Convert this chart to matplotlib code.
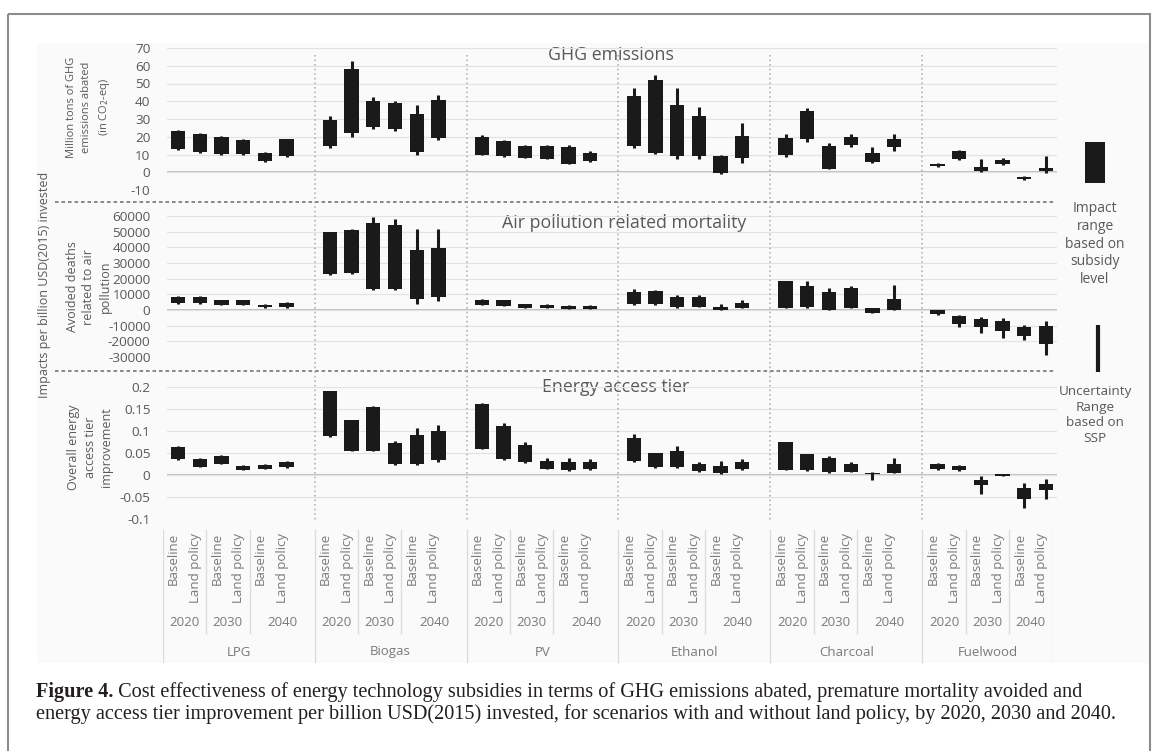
import matplotlib
matplotlib.use("Agg")
import matplotlib.pyplot as plt
from matplotlib.patches import Rectangle
import numpy as np

plt.rcParams['font.family'] = ['Open Sans', 'DejaVu Sans']
plt.rcParams['axes.unicode_minus'] = False

# ---------------- data ----------------
technologies = ["LPG", "Biogas", "PV", "Ethanol", "Charcoal", "Fuelwood"]
years = ["2020", "2030", "2040"]
scenarios = ["Baseline", "Land policy"]

# GHG emissions abated (Mt CO2-eq) : subsidy-level range (box) and SSP uncertainty (line)
ghg_box_lo = [13, 11.5, 10.5, 10.2, 6.2, 9.2,
              14.7, 22.2, 25.6, 24.1, 11.5, 19.4,
              10, 9.2, 8.3, 7.7, 4.9, 6.2,
              14.9, 11.1, 9.2, 9.2, -0.4, 8.3,
              9.6, 18.5, 1.7, 15.6, 5.8, 14.3,
              3.4, 7.3, 0.75, 4.9, -3.8, 0.75]
ghg_box_hi = [23.5, 21.8, 20, 18, 10.9, 18.5,
              29.4, 58.4, 40.3, 39.2, 32.8, 40.7,
              20, 17.5, 15, 14.7, 14.3, 11.1,
              43.1, 52, 37.9, 31.8, 9.2, 20.3,
              19.4, 34.5, 14.9, 20, 10.9, 18.5,
              4.9, 12, 3, 6.8, -2.6, 2.6]
ghg_unc_lo = [12.5, 11, 10, 9.8, 5.5, 8.7,
              13.4, 20, 24.3, 23.5, 9.6, 18,
              9.6, 8.8, 7.9, 7.3, 4.5, 5.8,
              13.4, 10.2, 7.7, 7.7, -0.8, 5.3,
              8.7, 17.1, 1.7, 14.3, 5.3, 12,
              3.2, 7, 0.2, 4, -4.1, -0.2]
ghg_unc_hi = [24, 22.3, 20.5, 18.5, 11.5, 19,
              31.8, 62.7, 42.2, 40, 37.9, 43.5,
              20.9, 18.1, 15.6, 15.2, 15.3, 11.9,
              47.6, 54.8, 47.6, 36.9, 10, 28,
              21.3, 36.3, 16.2, 21.8, 14.3, 21.3,
              5.1, 12.3, 7.7, 8.3, -2.3, 9.2]

# Avoided deaths related to air pollution
air_box_lo = [4300, 4300, 3200, 3200, 1700, 2200,
              23000, 23700, 13300, 13300, 6900, 8000,
              3200, 2600, 1500, 1500, 900, 900,
              3700, 3700, 2200, 2200, 0, 1500,
              1100, 2200, 0, 1100, -1700, 0,
              -2400, -9200, -11000, -13500, -16800, -21500]
air_box_hi = [8400, 8400, 6200, 6200, 3400, 4700,
              49500, 51000, 55300, 54200, 38500, 39600,
              6200, 6200, 3700, 3400, 2600, 2600,
              11800, 12300, 8000, 8000, 1900, 4700,
              18300, 15100, 11600, 14000, 1100, 6900,
              -200, -3900, -6000, -7100, -11000, -9900]
air_unc_lo = [4100, 4100, 3000, 3000, 1300, 1500,
              22500, 22800, 12700, 12700, 4100, 5800,
              3000, 2400, 1200, 1200, 600, 600,
              3200, 3200, 1500, 1900, -200, 1000,
              1100, 1500, 0, 1100, -1700, 0,
              -3200, -11000, -14600, -17800, -18900, -28600]
air_unc_hi = [9000, 9000, 6500, 6500, 3900, 5200,
              50000, 51800, 59100, 57800, 51400, 51400,
              6800, 6600, 4000, 3800, 3000, 3000,
              13100, 12900, 9700, 9300, 3700, 6200,
              18700, 18700, 13800, 15500, 1500, 16100,
              0, -3200, -4500, -5400, -9700, -7100]

# Overall energy access tier improvement
eat_box_lo = [0.036, 0.019, 0.025, 0.0114, 0.0144, 0.0175,
              0.089, 0.0555, 0.0555, 0.025, 0.025, 0.034,
              0.059, 0.0365, 0.029, 0.0137, 0.0114, 0.0129,
              0.0327, 0.0175, 0.019, 0.0099, 0.0038, 0.0137,
              0.0114, 0.0106, 0.0076, 0.0068, 0.0015, 0.005,
              0.0129, 0.0106, -0.0236, -0.0023, -0.0555, -0.035]
eat_box_hi = [0.063, 0.0365, 0.043, 0.0205, 0.0236, 0.030,
              0.19, 0.124, 0.1536, 0.072, 0.091, 0.100,
              0.161, 0.112, 0.068, 0.0327, 0.0297, 0.0297,
              0.0837, 0.049, 0.0555, 0.025, 0.0205, 0.029,
              0.0753, 0.047, 0.038, 0.026, 0.005, 0.0243,
              0.0243, 0.0205, -0.0114, 0.0015, -0.0289, -0.0198]
eat_unc_lo = [0.034, 0.018, 0.024, 0.011, 0.013, 0.016,
              0.087, 0.054, 0.054, 0.023, 0.023, 0.030,
              0.058, 0.035, 0.0266, 0.013, 0.0099, 0.0114,
              0.030, 0.016, 0.015, 0.0076, 0.0023, 0.0114,
              0.0106, 0.0099, 0.005, 0.006, -0.0114, 0.0038,
              0.0106, 0.009, -0.044, -0.003, -0.076, -0.0555]
eat_unc_hi = [0.065, 0.038, 0.045, 0.022, 0.025, 0.031,
              0.192, 0.126, 0.157, 0.0776, 0.1065, 0.114,
              0.163, 0.118, 0.075, 0.038, 0.038, 0.036,
              0.0935, 0.050, 0.066, 0.030, 0.0327, 0.0365,
              0.076, 0.048, 0.043, 0.030, 0.0068, 0.038,
              0.028, 0.023, -0.0023, 0.002, -0.019, -0.0099]

ghg_ticks = [70, 60, 50, 40, 30, 20, 10, 0, -10]
air_ticks = [60000, 50000, 40000, 30000, 20000, 10000, 0, -10000, -20000, -30000]
eat_ticks = [0.2, 0.15, 0.1, 0.05, 0, -0.05, -0.1]
eat_tick_labels = ["0.2", "0.15", "0.1", "0.05", "0", "-0.05", "-0.1"]

caption_bold = "Figure 4."
caption_line1 = (" Cost effectiveness of energy technology subsidies in terms of GHG emissions "
                 "abated, premature mortality avoided and")
caption_line2 = ("energy access tier improvement per billion USD(2015) invested, for scenarios "
                 "with and without land policy, by 2020, 2030 and 2040.")

# ---------------- layout ----------------
W, H = 1152, 751
fig = plt.figure(figsize=(W / 100, H / 100), dpi=100)

SLOT = 21.7          # px per category slot
PLOT_L = 167.15      # px, left of plot area
N_SLOTS = 41
LABEL_SHIFT = -4.4   # px, label table offset
TXT = "#595959"
BAR = "#1a1a1a"

n_tech = len(technologies)
slots = np.arange(n_tech * 7).reshape(n_tech, 7)[:, :6].ravel()   # 6 bars + gap per tech

deco = fig.add_axes([0, 0, 1, 1], zorder=0)
deco.set_xlim(0, W)
deco.set_ylim(H, 0)
deco.axis('off')

# light chart-area background and outer frame
deco.add_patch(Rectangle((37, 43), 1113, 620, facecolor="#fafafa", edgecolor="none", zorder=0))
deco.add_patch(Rectangle((8, 14), 1141.5, 760, facecolor="none", edgecolor="#8c8c8c", lw=1.5, zorder=1))


def panel(top, bottom, ylim, ticks, labels):
    ax = fig.add_axes([PLOT_L / W, 1 - bottom / H, SLOT * N_SLOTS / W, (bottom - top) / H], zorder=2)
    ax.patch.set_alpha(0)
    ax.set_xlim(-0.5, N_SLOTS - 0.5)
    ax.set_ylim(*ylim)
    ax.set_yticks(ticks)
    ax.set_yticklabels(labels)
    ax.set_xticks([])
    for s in ax.spines.values():
        s.set_visible(False)
    ax.tick_params(axis='y', length=0, pad=12, labelsize=9.7, labelcolor=TXT)
    ax.grid(axis='y', color="#e3e3e3", lw=0.9, zorder=0)
    ax.axhline(0, color="#bdbdbd", lw=1.4, zorder=1)
    return ax


ax1 = panel(48, 190, (-10, 70), ghg_ticks, [str(t) for t in ghg_ticks])
ax2 = panel(216, 357, (-30000, 60000), air_ticks, [str(t) for t in air_ticks])
ax3 = panel(387, 519, (-0.1, 0.2), eat_ticks, eat_tick_labels)

for ax, blo, bhi, ulo, uhi in [(ax1, ghg_box_lo, ghg_box_hi, ghg_unc_lo, ghg_unc_hi),
                                (ax2, air_box_lo, air_box_hi, air_unc_lo, air_unc_hi),
                                (ax3, eat_box_lo, eat_box_hi, eat_unc_lo, eat_unc_hi)]:
    blo, bhi = np.array(blo), np.array(bhi)
    ax.vlines(slots, ulo, uhi, color=BAR, lw=2.2, zorder=3)
    ax.bar(slots, bhi - blo, bottom=blo, width=0.66, color=BAR, zorder=4)

# panel titles
deco.text(611, 55, "GHG emissions", ha='center', va='center', fontsize=12.8, color=TXT)
deco.text(624, 223, "Air pollution related mortality", ha='center', va='center', fontsize=12.8, color=TXT)
deco.text(616, 387, "Energy access tier", ha='center', va='center', fontsize=12.8, color=TXT)

# y labels
deco.text(89, 107, "Million tons of GHG\nemissions abated\n(in CO$_2$-eq)", rotation=90,
          ha='center', va='center', fontsize=8, color=TXT, linespacing=1.45, multialignment='center')
deco.text(89, 287, "Avoided deaths\nrelated to air\npollution", rotation=90,
          ha='center', va='center', fontsize=9, color=TXT, linespacing=1.3, multialignment='center')
deco.text(90, 447, "Overall energy\naccess tier\nimprovement", rotation=90,
          ha='center', va='center', fontsize=9, color=TXT, linespacing=1.3, multialignment='center')
deco.text(45, 285, "Impacts per billion USD(2015) invested", rotation=90,
          ha='center', va='center', fontsize=9, color=TXT)

# horizontal dashed separators between panels
for yy in (202, 371):
    deco.plot([55, 1056], [yy, yy], color="#808080", lw=1.3, ls=(0, (2, 1.6)), zorder=3)

# label table axes (category axis)
lab = fig.add_axes([(PLOT_L + LABEL_SHIFT) / W, 1 - 665 / H, SLOT * N_SLOTS / W, 140 / H], zorder=2)
lab.set_xlim(-0.5, N_SLOTS - 0.5)
lab.set_ylim(665, 525)
lab.axis('off')
LAB = "#7a7a7a"
for g, tech in enumerate(technologies):
    base = 7 * g
    for j in range(6):
        lab.text(base + j, 533, scenarios[j % 2], rotation=90, ha='center', va='top',
                 fontsize=9.5, color=LAB)
    span2040 = (base + 4, base + 6) if g < n_tech - 1 else (base + 4, base + 5)
    yr_centers = [base + 0.5, base + 2.5, sum(span2040) / 2]
    for yc, yl in zip(yr_centers, years):
        lab.text(yc, 623, yl, ha='center', va='center', fontsize=9.5, color=LAB)
    right = base + 6.5 if g < n_tech - 1 else base + 5.5
    lab.text((base - 0.5 + right) / 2, 652, tech, ha='center', va='center', fontsize=9.5, color=LAB)
    lab.plot([base - 0.5, base - 0.5], [530, 662], color="#dcdcdc", lw=1)
    for sep in (base + 1.5, base + 3.5):
        lab.plot([sep, sep], [530, 633], color="#dcdcdc", lw=1)
lab.plot([N_SLOTS - 0.5, N_SLOTS - 0.5], [530, 662], color="#dcdcdc", lw=1)

# vertical dotted dividers between technologies across the panels
for g in range(1, n_tech):
    xb = 7 * g - 0.5
    lab.plot([xb, xb], [55, 521], color="#a9a9a9", lw=1.1, ls=(0, (1, 2)), clip_on=False)

# legend
deco.add_patch(Rectangle((1085, 142), 20, 41, facecolor=BAR, edgecolor='none'))
deco.plot([1098, 1098], [325, 372], color=BAR, lw=3, solid_capstyle='butt')
deco.text(1095, 244, "Impact\nrange\nbased on\nsubsidy\nlevel", ha='center', va='center',
          fontsize=10, color=TXT, linespacing=1.25)
deco.text(1095, 415, "Uncertainty\nRange\nbased on\nSSP", ha='center', va='center',
          fontsize=9.7, color=TXT, linespacing=1.25)

# caption
CAP = 14.6
renderer = fig.canvas.get_renderer()
cb = deco.text(36, 692, caption_bold, ha='left', va='center', fontsize=CAP,
               family='Liberation Serif', weight='bold', color='#231f20')
bb = cb.get_window_extent(renderer)
deco.text(36 + bb.width, 692, caption_line1, ha='left', va='center', fontsize=CAP,
          family='Liberation Serif', color='#231f20')
deco.text(36, 714, caption_line2, ha='left', va='center', fontsize=CAP,
          family='Liberation Serif', color='#231f20')

fig.savefig("out.png", dpi=100)
